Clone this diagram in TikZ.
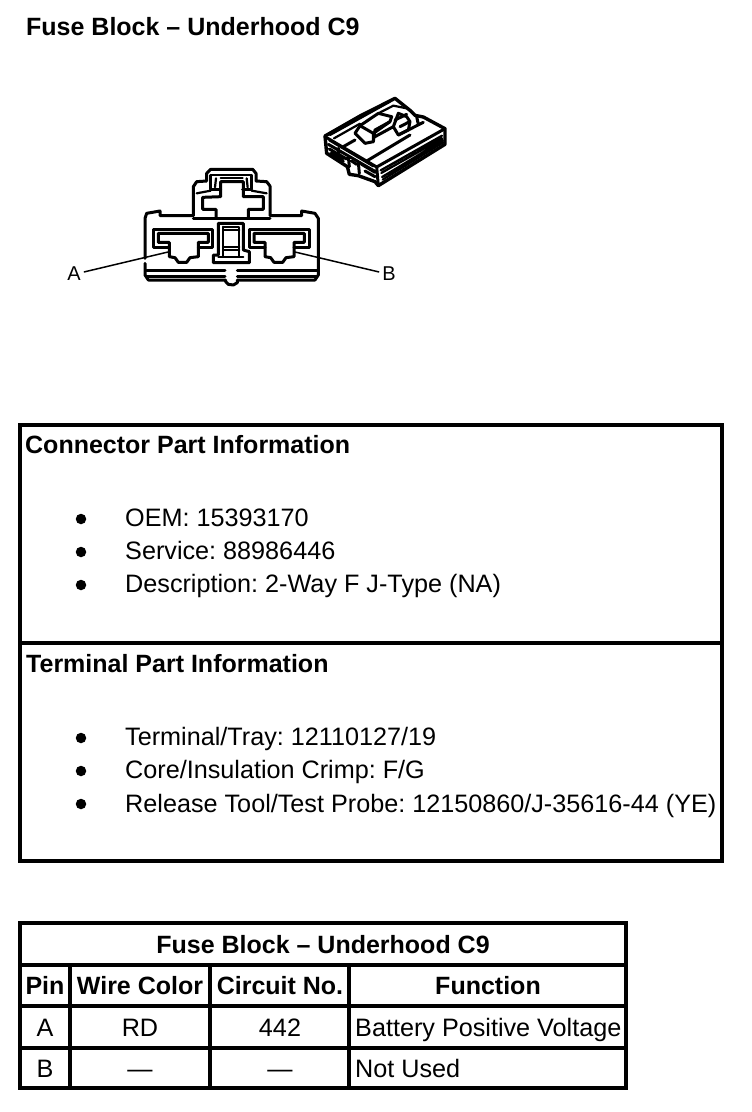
\documentclass[tikz,border=0pt]{standalone}
\usepackage{fontspec}
\setmainfont{Liberation Sans}
\frenchspacing
\tikzset{
 ln/.style={line width=3pt,line join=round,line cap=round},
 ls/.style={line width=2.2pt,line join=round,line cap=round},
 box/.style={line width=3.6pt,line cap=rect},
 ttl/.style={font=\fontsize{25}{28}\selectfont\bfseries,anchor=base west,inner sep=0pt},
 txt/.style={font=\fontsize{25.2}{28}\selectfont,anchor=base west,inner sep=0pt},
 tb/.style={font=\fontsize{25}{28}\selectfont\bfseries,anchor=base,inner sep=0pt},
 tr/.style={font=\fontsize{25.2}{28}\selectfont,anchor=base,inner sep=0pt},
 lab/.style={font=\fontsize{20}{22}\selectfont,inner sep=0pt},
 dot/.style={circle,fill=black,inner sep=0pt,minimum size=10.5pt}
}
\begin{document}
\begin{tikzpicture}[x=1pt,y=-1pt]
\useasboundingbox (0,0) rectangle (752,1112);
\node[ttl] (title) at (26,35) {Fuse Block – Underhood C9};
% front view
\begin{scope}[xshift=130pt,yshift=-150pt,x=.33333pt,y=-.33333pt]
\draw[ln] (45,325)--(45,205)--(50,190)--(90,183)--(90,197)--(190,197)--(190,110)--(200,95)--(230,93)--(230,70)--(242,58)--(368,58)--(378,70)--(378,93)--(410,95)--(420,108)--(420,197)--(515,197)--(515,183)--(555,190)--(565,205)--(565,375)--(555,390)--(322,390)--(322,398)--(310,405)--(295,403)--(287,395)--(287,390)--(55,390)--(45,375)--(45,340);
\draw[ln] (190,204)--(420,204);
\draw[ln] (50,360)--(285,360) (50,379)--(285,379) (322,360)--(560,360) (322,379)--(560,379);
% upper latch
\draw[ls] (242,76)--(365,76);
\draw[ln] (242,76)--(242,118)--(272,118) (365,76)--(365,118)--(338,118);
\draw[ls] (258,85)--(255,112) (350,85)--(353,112);
\draw[ls] (272,83)--(338,83);
\draw[ln] (272,95)--(340,95)--(340,140)--(400,140)--(400,178)--(355,178)--(355,204) (258,204)--(258,178)--(218,178)--(218,142)--(272,140)--(272,95);
\draw[ls] (200,130)--(242,122) (365,122)--(410,130);
% centre
\draw[ln] (265,300)--(265,220)--(340,220)--(340,300)--(358,305)--(358,338)--(250,338)--(250,315)--(265,315)--(265,300);
\draw[ls] (280,230)--(328,230)--(328,320) (280,230)--(280,320) (280,240)--(328,240) (280,290)--(328,290) (280,300)--(328,300) (265,320)--(340,320);
% left socket
\draw[ln] (118,293)--(70,293)--(70,237)--(248,237)--(248,293)--(205,293);
\draw[ln] (85,277)--(85,250)--(235,250)--(235,277)--(205,277)--(205,320)--(180,323)--(170,337)--(145,337)--(135,323)--(118,320)--(118,277)--(85,277);
% right socket
\draw[ln] (405,293)--(358,293)--(358,237)--(538,237)--(538,293)--(492,293);
\draw[ln] (372,277)--(372,250)--(523,250)--(523,277)--(492,277)--(492,320)--(468,323)--(458,337)--(432,337)--(422,323)--(405,320)--(405,277)--(372,277);
\end{scope}
% iso view
\begin{scope}[xshift=310pt,yshift=-85pt,x=.33333pt,y=-.33333pt]
\draw[line width=3.4pt,line join=round,line cap=round] (45,153)--(150,93)--(255,40)--(300,76)--(315,91)--(340,96)--(405,131)--(405,178)--(205,302)--(195,290)--(145,272)--(118,268)--(112,245)--(50,205)--cycle;
\draw[ln] (45,155)--(200,246)--(405,131) (200,246)--(205,302);
\draw[ls] (212,256)--(396,152) (214,264)--(397,160) (216,276)--(399,166) (218,284)--(400,172);
\draw[ls] (60,150)--(240,50) (72,160)--(150,116) (58,166)--(190,244);
\draw[ln] (55,178)--(200,262);
\draw[ln] (58,192)--(110,222) (62,205)--(100,228) (85,190)--(88,222) (115,215)--(118,245) (145,232)--(148,265) (125,228)--(140,238) (155,238)--(195,262) (165,258)--(195,275);
\draw[ln] (135,145)--(150,122)--(205,85)--(245,95)--(240,110)--(195,135)--(190,170)--(165,175)--(135,145);
\draw[ln] (150,122)--(190,145)--(190,170) (190,145)--(240,110);
\draw[ln] (195,155)--(250,125)--(265,85)--(290,95)--(300,110)--(295,135)--(265,150)--(250,125);
\draw[ln] (100,185)--(135,165) (265,150)--(340,112) (320,95)--(325,118);
\draw[ln] (255,105)--(290,88) (270,125)--(295,112) (170,228)--(300,150);
\draw[ls] (205,85)--(250,62)--(290,70);
\end{scope}
% labels
\node[lab] (pa) at (74,274) {A};
\node[lab] (pb) at (389,274) {B};
\coordinate (ca) at (168,252);
\coordinate (cb) at (295,252);
\draw[line width=1.5pt] (pa.east)++(3,-2)--(ca);
\draw[line width=1.5pt] (pb.west)++(-3,-2)--(cb);
% info box
\draw[box] (20,425) rectangle (722,861);
\draw[box] (20,643)--(722,643);
\node[ttl] (h1) at (25,453) {Connector Part Information};
\node[dot] (d1) at (81,519) {};
\node[dot] (d2) at (81,552) {};
\node[dot] (d3) at (81,585) {};
\node[txt] (t1) at (125,526) {OEM: 15393170};
\node[txt] (t2) at (125,559) {Service: 88986446};
\node[txt] (t3) at (125,592) {Description: 2-Way F J-Type (NA)};
\node[ttl] (h2) at (26,672) {Terminal Part Information};
\node[dot] (d4) at (81,738) {};
\node[dot] (d5) at (81,771) {};
\node[dot] (d6) at (81,804) {};
\node[txt] (t4) at (125,745) {Terminal/Tray: 12110127/19};
\node[txt] (t5) at (125,778) {Core/Insulation Crimp: F/G};
\node[txt] (t6) at (125,812) {Release Tool/Test Probe: 12150860/J-35616-44 (YE)};
% table
\draw[box] (20,923) rectangle (626,1088);
\draw[box] (20,965)--(626,965) (20,1006)--(626,1006) (20,1048)--(626,1048);
\draw[box] (70,965)--(70,1088) (210,965)--(210,1088) (349,965)--(349,1088);
\node[tb] (c0) at (323,953) {Fuse Block – Underhood C9};
\node[tb] (c1) at (45,994) {Pin};
\node[tb] (c2) at (140,994) {Wire Color};
\node[tb] (c3) at (280,994) {Circuit No.};
\node[tb] (c4) at (488,994) {Function};
\node[tr] (a1) at (45,1036) {A};
\node[tr] (a2) at (140,1036) {RD};
\node[tr] (a3) at (280,1036) {442};
\node[txt] (a4) at (355,1036) {Battery Positive Voltage};
\node[tr] (b1) at (45,1077) {B};
\node[tr] (b2) at (140,1077) {—};
\node[tr] (b3) at (280,1077) {—};
\node[txt] (b4) at (355,1077) {Not Used};
\end{tikzpicture}
\end{document}
